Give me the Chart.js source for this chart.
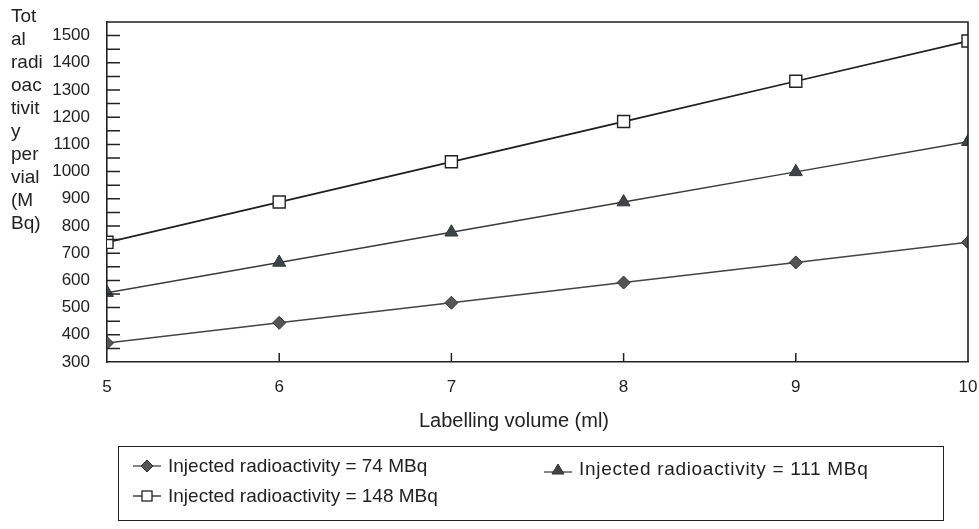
<!DOCTYPE html>
<html>
<head>
<meta charset="utf-8">
<script src="https://cdn.jsdelivr.net/npm/chart.js@4.4.1/dist/chart.umd.min.js"></script>
<style>
  html, body { margin: 0; padding: 0; background: #fff; }
  body { width: 979px; height: 529px; position: relative; overflow: hidden;
         font-family: "Liberation Sans", Arial, sans-serif; color: #222; }
  #wrap { position: absolute; left: 0; top: 0; width: 979px; height: 529px; }
  #ytitle { position: absolute; left: 11px; top: 4px; font-size: 19px; line-height: 23px; }
  #xtitle { position: absolute; left: 0; width: 1028px; top: 409px; text-align: center; font-size: 20px; }
  #legend { position: absolute; left: 118px; top: 446px; width: 826px; height: 75px;
            border: 1.5px solid #222; box-sizing: border-box; font-size: 19px; }
  .item { position: absolute; display: flex; align-items: center; white-space: nowrap; }
  .item svg { margin-right: 5px; }
</style>
</head>
<body>
<div id="wrap"><canvas id="c" width="979" height="529"></canvas></div>
<div id="ytitle">Tot<br>al<br>radi<br>oac<br>tivit<br>y<br>per<br>vial<br>(M<br>Bq)</div>
<div id="xtitle">Labelling volume (ml)</div>
<div id="legend">
  <div class="item" style="left:12px; top:8px;">
    <svg width="32" height="16"><line x1="2" y1="8" x2="30" y2="8" stroke="#444" stroke-width="1.3"/><polygon points="16,2 22,8 16,14 10,8" fill="#555" stroke="#333" stroke-width="1"/></svg>
    <span>Injected radioactivity = 74 MBq</span>
  </div>
  <div class="item" style="left:423px; top:11px;">
    <svg width="32" height="16"><line x1="2" y1="11" x2="30" y2="11" stroke="#444" stroke-width="1.3"/><polygon points="16,3 22,13 10,13" fill="#444" stroke="#333" stroke-width="1"/></svg>
    <span style="letter-spacing:0.7px">Injected radioactivity = 111 MBq</span>
  </div>
  <div class="item" style="left:12px; top:38px;">
    <svg width="32" height="16"><line x1="2" y1="8" x2="30" y2="8" stroke="#222" stroke-width="1.3"/><rect x="11" y="3" width="10" height="10" fill="#fff" stroke="#222" stroke-width="1.3"/></svg>
    <span>Injected radioactivity = 148 MBq</span>
  </div>
</div>
<script>
// ---- data ----
const volumes = [5, 6, 7, 8, 9, 10];
const series74  = [370, 444, 518, 592, 666, 740];
const series111 = [555, 666, 777, 888, 999, 1110];
const series148 = [740, 888, 1036, 1184, 1332, 1480];
const seriesNames = ['Injected radioactivity = 74 MBq', 'Injected radioactivity = 111 MBq', 'Injected radioactivity = 148 MBq'];
const yMin = 300, yMax = 1550, yMajorStep = 100, yMinorStep = 50, yLastLabel = 1500;
const xMin = 5, xMax = 10;

const toPts = (vals) => volumes.map((v, i) => ({ x: v, y: vals[i] }));

const frameAndTicks = {
  id: 'frameAndTicks',
  afterDraw(chart) {
    const { ctx, chartArea: a, scales } = chart;
    ctx.save();
    ctx.strokeStyle = '#222';
    ctx.lineWidth = 1.6;
    ctx.beginPath();
    ctx.moveTo(a.left, a.top); ctx.lineTo(a.right, a.top); ctx.lineTo(a.right, a.bottom);
    ctx.stroke();
    ctx.lineWidth = 1.5;
    ctx.beginPath();
    for (let v = yMin + yMinorStep; v <= yLastLabel; v += yMinorStep) {
      const py = scales.y.getPixelForValue(v);
      ctx.moveTo(a.left, py); ctx.lineTo(a.left + 13, py);
    }
    for (let v = xMin + 1; v < xMax; v += 1) {
      const px = scales.x.getPixelForValue(v);
      ctx.moveTo(px, a.bottom); ctx.lineTo(px, a.bottom - 9);
    }
    ctx.stroke();
    ctx.restore();
  }
};

new Chart(document.getElementById('c'), {
  type: 'line',
  data: {
    datasets: [
      { label: seriesNames[0], data: toPts(series74), borderColor: '#444', borderWidth: 1.5,
        pointStyle: 'rectRot', pointRadius: 6.5, backgroundColor: '#555', pointBorderColor: '#333', pointBorderWidth: 1 },
      { label: seriesNames[1], data: toPts(series111), borderColor: '#3a3a3a', borderWidth: 1.5,
        pointStyle: 'triangle', pointRadius: 7.5, backgroundColor: '#3f4448', pointBorderColor: '#333', pointBorderWidth: 1 },
      { label: seriesNames[2], data: toPts(series148), borderColor: '#1e1e1e', borderWidth: 1.7,
        pointStyle: 'rect', pointRadius: 8.5, backgroundColor: '#fff', pointBorderColor: '#222', pointBorderWidth: 1.4 }
    ]
  },
  options: {
    responsive: false,
    animation: false,
    layout: { padding: { top: 22, right: 11, left: 0, bottom: 0 } },
    plugins: { legend: { display: false }, tooltip: { enabled: false } },
    elements: { line: { tension: 0 } },
    scales: {
      x: {
        type: 'linear', min: xMin, max: xMax,
        grid: { display: false, drawTicks: false },
        border: { display: true, color: '#222', width: 1.6 },
        ticks: { stepSize: 1, padding: 15, color: '#222', font: { family: 'Liberation Sans', size: 17 } },
        afterFit(s) { s.height = 167; s.paddingRight = 0; s.paddingLeft = 0; }
      },
      y: {
        min: yMin, max: yMax,
        grid: { display: false, drawTicks: false },
        border: { display: true, color: '#222', width: 1.6 },
        ticks: { stepSize: yMinorStep, padding: 17, color: '#222', font: { family: 'Liberation Sans', size: 17 },
          autoSkip: false,
          callback: (v) => (v % yMajorStep === 0 && v <= yLastLabel) ? String(v) : '' },
        afterFit(s) { s.width = 107; s.paddingTop = 0; s.paddingBottom = 0; }
      }
    }
  },
  plugins: [frameAndTicks]
});
</script>
</body>
</html>
